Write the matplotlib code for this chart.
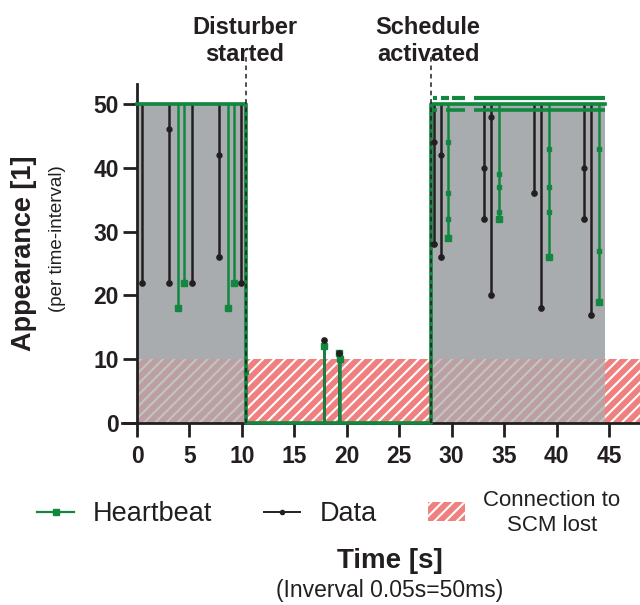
import matplotlib
matplotlib.use("Agg")
import matplotlib.pyplot as plt
import numpy as np
from matplotlib.lines import Line2D
from matplotlib.patches import Patch

plt.rcParams['font.family'] = ['Liberation Sans', 'DejaVu Sans']
plt.rcParams['hatch.linewidth'] = 1.5

GREEN = '#12873f'
BLACK = '#231f20'
GRAY = '#a9acaf'
SALMON = '#f08080'

# phases (s)
disturber_t = 10.36
schedule_t = 28.0
active_start = [0, 28.0]
active_end = [10.36, 44.58]
lost_x = [0, 48]
lost_top = 10

# heartbeat base level (steps)
hb_step_t = [0, 10.36, 28.0, 44.58]
hb_step_v = [50, 0, 50, 50]
# heartbeat drops: time, base, lowest value
hb_spike_t = [3.88, 4.48, 8.65, 9.22, 17.8, 19.23, 19.33, 29.68, 34.5, 39.28, 44.01]
hb_spike_base = [50, 50, 50, 50, 0, 0, 0, 50, 50, 50, 50]
hb_spike_v = [18, 22, 18, 22, 12, 11, 10, 29, 32, 26, 19]
# intermediate heartbeat points on the drops
hb_mid_t = [10.36, 29.68, 29.68, 29.68, 34.5, 34.5, 34.5, 39.28, 39.28, 39.28, 44.01, 44.01]
hb_mid_v = [8, 32, 36, 44, 33, 37, 39, 33, 37, 43, 27, 43]
# heartbeat jitter around 50 after schedule activation
hb_hi_start = [28.2, 29.0, 30.0, 32.1]
hb_hi_end = [28.6, 29.7, 31.3, 44.6]
hb_lo_start = [27.9, 29.5, 32.1]
hb_lo_end = [28.6, 31.3, 44.6]

# data base level
data_step_t = [0, 10.36, 28.0, 44.58]
data_step_v = [50, 0, 50, 50]
# data drops
data_spike_t = [0.45, 3.08, 5.21, 7.85, 9.94, 17.8, 19.23,
                28.34, 28.98, 33.1, 33.72, 37.87, 38.48, 42.61, 43.25]
data_spike_base = [50, 50, 50, 50, 50, 0, 0,
                   50, 50, 50, 50, 50, 50, 50, 50]
data_spike_v = [22, 22, 22, 26, 22, 13, 11,
                28, 26, 32, 20, 36, 18, 32, 17]
data_mid_t = [3.08, 7.85, 28.34, 28.98, 33.1, 33.72, 42.61]
data_mid_v = [46, 42, 44, 42, 40, 48, 40]

xticks = list(range(0, 50, 5))
yticks = list(range(0, 60, 10))

fig = plt.figure(figsize=(6.4, 6.05), dpi=100)
ax = fig.add_axes([0.1903, 0.2977, 0.8105, 0.5642])

# connection lost (hatched) and active (gray) regions
ax.fill_between(lost_x, 0, lost_top, facecolor=SALMON, edgecolor='white',
                hatch='///', linewidth=0, zorder=1)
for s, e in zip(active_start, active_end):
    ax.fill_between([s, e], lost_top, 50, facecolor=GRAY, linewidth=0, zorder=1)
    ax.fill_between([s, e], 0, lost_top, facecolor=GRAY, alpha=0.72,
                    linewidth=0, zorder=1.5)

# event markers
for t in [disturber_t, schedule_t]:
    ax.plot([t, t], [0, 57.7], color=BLACK, lw=1.1, ls=(0, (3, 2.5)),
            clip_on=False, zorder=6)

# data (black)
ax.plot(data_step_t, data_step_v, drawstyle='steps-post', color=BLACK, lw=1.6, zorder=3)
ax.vlines(data_spike_t, data_spike_base, data_spike_v, color=BLACK, lw=1.8, zorder=3)
ax.plot(data_spike_t, data_spike_v, 'o', color=BLACK, ms=3.8, zorder=5)
ax.plot(data_mid_t, data_mid_v, 'o', color=BLACK, ms=3.5, zorder=5)

# heartbeat (green)
ax.plot(hb_step_t, hb_step_v, drawstyle='steps-post', color=GREEN, lw=2.6,
        zorder=4, clip_on=False)
ax.vlines(hb_spike_t, hb_spike_base, hb_spike_v, color=GREEN, lw=1.8, zorder=4)
ax.plot(hb_spike_t, hb_spike_v, 's', color=GREEN, ms=3.8, zorder=4)
ax.plot(hb_mid_t, hb_mid_v, 's', color=GREEN, ms=3.2, zorder=4)
ax.hlines([51] * len(hb_hi_start), hb_hi_start, hb_hi_end, color=GREEN, lw=3.0, zorder=4)
ax.hlines([49] * len(hb_lo_start), hb_lo_start, hb_lo_end, color=GREEN, lw=2.6, zorder=4)

ax.set_xlim(-1.45, 48)
ax.set_ylim(-0.3, 53.2)
ax.spines['top'].set_visible(False)
ax.spines['right'].set_visible(False)
ax.spines['left'].set_position(('data', 0))
ax.spines['bottom'].set_position(('data', 0))
for sp in ['left', 'bottom']:
    ax.spines[sp].set_linewidth(2.0)
    ax.spines[sp].set_color(BLACK)
ax.spines['left'].set_bounds(0, 53.2)
ax.set_xticks(xticks)
ax.set_yticks(yticks)
ax.tick_params(axis='both', direction='out', length=10, width=2.0, color=BLACK,
               labelsize=16.5, labelcolor=BLACK)
ax.tick_params(axis='x', pad=6)
ax.tick_params(axis='y', pad=3)
for lab in ax.get_xticklabels() + ax.get_yticklabels():
    lab.set_fontweight('bold')
ax.set_facecolor('none')

# annotations
fig.text(245 / 640, 1 - 41 / 605, 'Disturber\nstarted', ha='center', va='center',
         fontsize=17, fontweight='bold', color=BLACK, linespacing=1.25)
fig.text(428 / 640, 1 - 41 / 605, 'Schedule\nactivated', ha='center', va='center',
         fontsize=17, fontweight='bold', color=BLACK, linespacing=1.25)

fig.text(24 / 640, 1 - 253 / 605, 'Appearance [1]', rotation=90, ha='center',
         va='center', fontsize=19.5, fontweight='bold', color=BLACK)
fig.text(58 / 640, 1 - 239 / 605, '(per time-interval)', rotation=90, ha='center',
         va='center', fontsize=13.5, color=BLACK)

fig.text(390 / 640, 1 - 561 / 605, 'Time [s]', ha='center', va='center',
         fontsize=20, fontweight='bold', color=BLACK)
fig.text(390 / 640, 1 - 590 / 605, '(Inverval 0.05s=50ms)', ha='center', va='center',
         fontsize=16.5, color=BLACK)

handles = [
    Line2D([], [], color=GREEN, lw=1.6, marker='s', ms=4),
    Line2D([], [], color=BLACK, lw=1.4, marker='o', ms=3),
    Patch(facecolor=SALMON, edgecolor='white', hatch='///', linewidth=0),
]
labels = ['Heartbeat', 'Data', 'Connection to\nSCM lost']
leg = fig.legend(handles, labels, loc='center', bbox_to_anchor=(329 / 640, 1 - 513 / 605),
                 ncol=3, frameon=False, fontsize=19.5, handlelength=1.35,
                 handletextpad=0.7, columnspacing=1.9)
leg.get_texts()[2].set_fontsize(16)
leg.get_texts()[2].set_multialignment('center')
for t in leg.get_texts():
    t.set_color(BLACK)

fig.savefig('out.png', dpi=100)
